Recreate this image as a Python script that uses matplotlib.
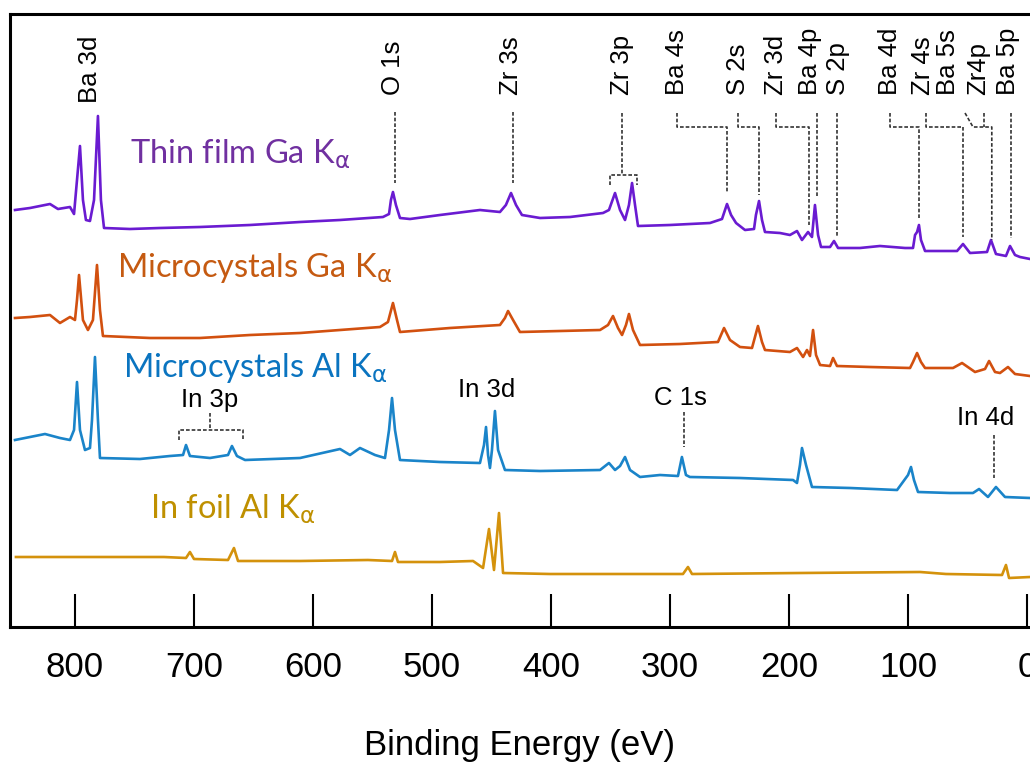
import matplotlib
matplotlib.use("Agg")
import numpy as np
from matplotlib import pyplot as plt

# XPS survey spectra, binding energy (eV) vs intensity (a.u., offset per trace)
thin_ga_E = [850.4, 837.8, 821.0, 814.3, 804.2, 800.8, 798.3, 795.8, 793.3, 790.8, 787.4, 784.0,
             780.7, 778.2, 775.6, 753.8, 728.6, 695.0, 652.9, 610.9, 577.3, 541.2, 536.1, 534.5,
             532.8, 530.3, 526.9, 518.5, 493.3, 459.7, 442.9, 437.9, 433.6, 429.4, 424.4, 409.2,
             384.0, 356.3, 351.3, 346.2, 342.0, 337.8, 334.5, 331.9, 329.4, 326.9, 300.0, 266.4,
             256.3, 252.1, 248.7, 244.5, 237.0, 229.4, 227.8, 225.2, 222.7, 220.2, 207.6, 199.2,
             193.3, 189.1, 184.0, 180.7, 178.2, 175.6, 173.1, 165.5, 162.2, 158.8, 140.4, 123.6,
             102.5, 95.8, 94.1, 92.4, 90.8, 89.1, 85.7, 58.8, 53.8, 47.9, 33.6, 30.3, 26.1, 17.7,
             14.3, 10.1, 5.9, -2.5]
thin_ga_I = [417, 419, 423, 418, 420, 413, 447, 481, 427, 407, 406, 427,
             511, 427, 399, 398, 399, 400, 402, 405, 407, 410, 413, 427,
             435, 422, 409, 408, 412, 417, 415, 422, 434, 422, 412, 409,
             410, 414, 417, 434, 417, 407, 422, 444, 422, 401, 402, 404,
             408, 423, 412, 404, 397, 398, 412, 426, 407, 395, 394, 392,
             396, 387, 395, 390, 422, 392, 380, 380, 386, 379, 379, 381,
             379, 379, 392, 395, 402, 387, 376, 376, 383, 374, 375, 387, 373, 371,
             381, 372, 370, 368]

micro_ga_E = [850.4, 837.8, 821.0, 812.6, 804.2, 800.0, 798.3, 796.6, 793.3, 789.1, 784.9, 781.5,
              779.0, 776.5, 737.0, 695.0, 652.9, 610.9, 577.3, 543.7, 537.0, 532.8, 529.4, 526.9,
              484.9, 442.9, 438.7, 436.1, 431.9, 426.1, 392.4, 358.8, 352.1, 347.9, 343.7, 340.3,
              337.0, 334.5, 331.1, 325.2, 291.6, 259.7, 254.6, 249.6, 241.2, 231.1, 226.1, 222.7,
              220.2, 199.2, 193.3, 188.2, 184.9, 182.4, 179.8, 177.3, 173.9, 165.5, 163.0, 159.7,
              131.9, 98.3, 95.8, 92.4, 89.1, 85.7, 62.2, 54.6, 43.7, 35.3, 31.9, 26.9, 22.7, 16.0,
              10.1, -2.5]
micro_ga_I = [309, 310, 312, 304, 310, 307, 327, 352, 307, 297, 307, 362,
              317, 291, 289, 289, 292, 294, 297, 300, 305, 324, 307, 295,
              299, 302, 309, 316, 307, 295, 296, 297, 302, 311, 299, 292,
              302, 313, 297, 282, 283, 285, 299, 287, 280, 279, 301, 285,
              277, 275, 279, 270, 277, 271, 297, 272, 262, 261, 269, 261,
              260, 259, 265, 274, 265, 259, 259, 264, 255, 258, 266, 255, 254, 260,
              253, 251]

micro_al_E = [850.4, 837.8, 825.2, 812.6, 804.2, 800.8, 798.3, 795.8, 791.6, 787.4, 785.7, 783.2,
              780.7, 779.0, 745.4, 720.2, 709.2, 706.7, 703.4, 686.6, 671.4, 668.1, 663.9, 657.1,
              610.9, 577.3, 568.9, 560.5, 547.9, 539.5, 536.1, 533.6, 531.1, 526.9, 493.3, 459.7,
              456.3, 454.6, 452.9, 451.3, 449.6, 447.1, 444.5, 438.7, 409.2, 358.8, 351.3, 346.2,
              342.0, 337.8, 333.6, 325.2, 308.4, 293.3, 290.0, 286.6, 283.3, 241.2, 196.6, 193.3,
              190.8, 189.1, 185.7, 180.7, 148.7, 109.2, 100.0, 97.5, 95.0, 91.6, 64.7, 45.4, 40.3,
              32.8, 26.1, 18.5, -2.5]
micro_al_I = [187, 190, 193, 189, 187, 197, 245, 197, 177, 179, 207, 270,
              207, 169, 168, 171, 172, 182, 171, 169, 172, 181, 171, 167,
              169, 178, 172, 179, 172, 169, 197, 229, 197, 167, 165, 164,
              182, 200, 172, 159, 177, 216, 177, 157, 156, 157, 164, 157,
              161, 170, 157, 150, 152, 151, 170, 152, 150, 149, 147, 144,
              162, 179, 162, 140, 139, 137, 152, 160, 147, 135, 134, 134, 138,
              130, 140, 130, 129]

in_foil_E = [849.6, 779.0, 725.2, 706.7, 703.4, 700.0, 671.4, 666.4, 663.0, 610.9, 553.8, 533.6,
             531.1, 528.6, 493.3, 465.5, 457.1, 452.1, 447.9, 443.7, 440.3, 400.8, 289.1, 284.9,
             281.5, 190.8, 89.9, 68.1, 21.0, 17.7, 15.1, -2.5]
in_foil_I = [70, 70, 70, 69, 75, 68, 67, 79, 66, 66, 67, 66,
             75, 65, 65, 66, 59, 98, 57, 114, 54, 53, 53, 60,
             53, 54, 55, 53, 52, 62, 49, 50]

series_names = ["Thin film Ga K", "Microcystals Ga K", "Microcystals Al K", "In foil Al K"]
line_colors = ["#6a1bd1", "#d2500f", "#1a84c9", "#d4920c"]
text_colors = ["#7030a0", "#c55a11", "#0a74c0", "#bf9000"]
name_pos = [(753.8, 464), (764.7, 350), (759.7, 250), (737.0, 109)]

# rotated peak labels along the top: (text, energy of label centre)
top_labels = [("Ba 3d", 787.4), ("O 1s", 532.8), ("Zr 3s", 433.6), ("Zr 3p", 340.3),
              ("Ba 4s", 294.1), ("S 2s", 242.9), ("Zr 3d", 210.9), ("Ba 4p", 182.4),
              ("S 2p", 158.8), ("Ba 4d", 115.1), ("Zr 4s", 87.4), ("Ba 5s", 66.4),
              ("Zr4p", 41.2), ("Ba 5p", 16.0)]
# horizontal labels for the In foil / Al spectrum
low_labels = [("In 3p", 686.6, 220), ("In 3d", 453.8, 230), ("C 1s", 291.6, 222),
              ("In 4d", 34.5, 202)]

# dashed leader lines, each a list of (energy, intensity) corners
leaders = [
    [(531.1, 515), (531.1, 444)],
    [(431.9, 515), (431.9, 444)],
    [(340.3, 514), (340.3, 452)],
    [(350.4, 442), (350.4, 452), (327.7, 452), (327.7, 442)],
    [(294.1, 514), (294.1, 500), (252.1, 500), (252.1, 434)],
    [(242.9, 514), (242.9, 500), (225.2, 500), (225.2, 432)],
    [(210.9, 514), (210.9, 500), (183.2, 500), (183.2, 402)],
    [(176.5, 514), (176.5, 430)],
    [(159.7, 514), (159.7, 390)],
    [(115.1, 514), (115.1, 500), (90.8, 500), (90.8, 409)],
    [(84.9, 514), (84.9, 500), (53.8, 500), (53.8, 390)],
    [(52.1, 514), (45.4, 500), (29.6, 500), (29.6, 387)],
    [(36.4, 514), (36.4, 500)],
    [(13.4, 514), (13.4, 389)],
    [(686.6, 214), (686.6, 197)],
    [(712.6, 187), (712.6, 197), (658.8, 197), (658.8, 187)],
    [(288.2, 215), (288.2, 180)],
    [(27.7, 192), (27.7, 149)],
]

spectra = [(thin_ga_E, thin_ga_I), (micro_ga_E, micro_ga_I),
           (micro_al_E, micro_al_I), (in_foil_E, in_foil_I)]

plt.rcParams["mathtext.fontset"] = "dejavusans"

fig = plt.figure(figsize=(10.3, 7.67), dpi=100)
ax = fig.add_axes([10 / 1030, 140 / 767, 1020 / 1030, 613 / 767])

for (E, I), c in zip(spectra, line_colors):
    ax.plot(E, I, color=c, lw=1.9, solid_joinstyle="round")

for name, (x, y), c in zip(series_names, name_pos, text_colors):
    ax.text(x, y, name + r"$_{\mathrm{\alpha}}$", color=c, fontsize=23.5, family="Lato",
            ha="left", va="baseline")

for lab, x in top_labels:
    yb = 524 if lab == "Ba 3d" else 532
    ax.text(x, yb, lab, rotation=90, ha="center", va="bottom", fontsize=18.5,
            family="Liberation Sans")

for lab, x, y in low_labels:
    ax.text(x, y, lab, ha="center", va="baseline", fontsize=18.5, family="Liberation Sans")

for pts in leaders:
    xs, ys = zip(*pts)
    ax.plot(xs, ys, color="#333333", lw=1.2, ls=(0, (2.2, 1.2)))

ax.set_xlim(854.6, -2.5)
ax.set_ylim(0, 613)
ax.set_yticks([])
ax.set_xticks(np.arange(0, 801, 100))
ax.tick_params(axis="x", direction="in", length=24, width=1.5, pad=17,
               labelsize=25, top=False)
for t in ax.get_xticklabels():
    t.set_family("Liberation Sans")
ax.set_xlabel("Binding Energy (eV)", fontsize=25, family="Liberation Sans", labelpad=33)
ax.spines["right"].set_visible(False)
for s in ["left", "top", "bottom"]:
    ax.spines[s].set_linewidth(2.2)

fig.savefig("out.png", dpi=100)
